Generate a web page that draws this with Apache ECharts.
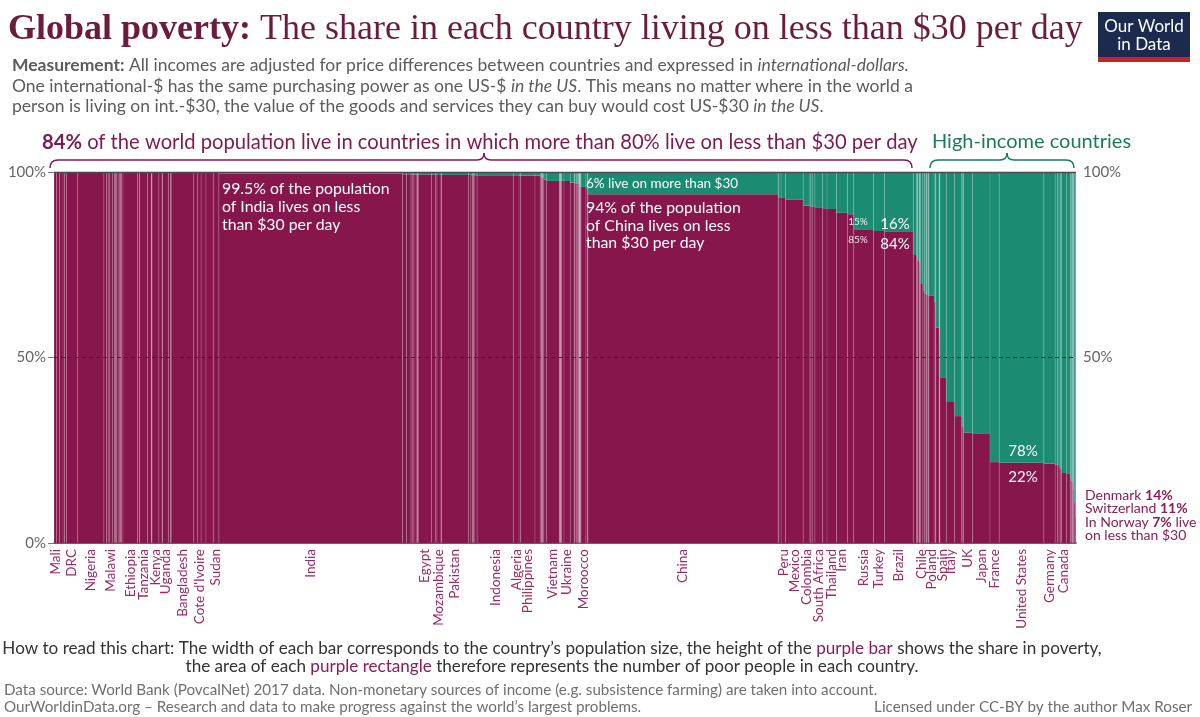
<!DOCTYPE html>
<html><head><meta charset="utf-8">
<script src="https://cdn.jsdelivr.net/npm/echarts@6/dist/echarts.min.js"></script>
<style>html,body{margin:0;padding:0;background:#fff}#c{width:1200px;height:717px}</style>
</head><body><div id="c"></div>
<script>
// Countries in chart order (sorted by share living on less than $30/day)
const countries = [
 'Mali','Niger','Madagascar','Burundi','Chad','DRC','Nigeria','Burkina Faso','Guinea','Benin',
 'Malawi','Zambia','Central African Republic','Sierra Leone','South Sudan','Rwanda','Liberia','Togo','Haiti','Ethiopia',
 'Zimbabwe','Guinea-Bissau','Tanzania','Yemen','Lesotho','Gambia','Comoros','Kenya','Cameroon','Eswatini',
 'Djibouti','Uganda','Senegal','Mauritania','Bangladesh','Nepal',"Cote d'Ivoire",'Afghanistan','Myanmar','Sudan',
 'India','Ghana','Uzbekistan','Tajikistan','Kyrgyzstan','Laos','Cambodia','Papua New Guinea','Congo','Timor-Leste',
 'Solomon Islands','Egypt','Angola','Honduras','Mozambique','Bhutan','Mongolia','Pakistan','Guatemala','Bolivia',
 'Nicaragua','El Salvador','Sri Lanka','Indonesia','Algeria','Tunisia','Philippines','Iraq','Jordan','Armenia',
 'Georgia','Moldova','Paraguay','Kazakhstan','Vietnam','Albania','Bosnia and Herzegovina','North Macedonia','Namibia','Botswana',
 'Gabon','Syria','Ukraine','Venezuela','Jamaica','Azerbaijan','Lebanon','Serbia','Turkmenistan','Libya',
 'Fiji','Belize','Guyana','Suriname','Montenegro','Kosovo','Palestine','Cabo Verde','Mauritius','Morocco',
 'Dominican Republic','Panama','China','Costa Rica','Ecuador','Peru','Mexico','Colombia','Bulgaria','Belarus',
 'Romania','South Africa','Malaysia','Thailand','Iran','Argentina','Russia','Turkey','Brazil','Saudi Arabia',
 'Oman','Uruguay','Hungary','Croatia','Latvia','Lithuania','Chile','Greece','Slovakia','Portugal',
 'Estonia','United Arab Emirates','Kuwait','Qatar','Poland','Czech Republic','Slovenia','Taiwan','Puerto Rico','Trinidad and Tobago',
 'Cyprus','Malta','Spain','Italy','South Korea','Israel','New Zealand','UK','Japan','France',
 'United States','Germany','Netherlands','Belgium','Austria','Sweden','Canada','Australia','Finland','Hong Kong',
 'Singapore','Ireland','Luxembourg','Iceland','Denmark','Switzerland','Norway'
];
// Population, millions (bar width)
const population = [
 18.5,21.5,25.6,10.8,15.0,81.3,190.9,19.2,12.7,11.2,
 18.6,17.1,4.7,7.6,12.6,12.2,4.7,7.8,11.0,105.0,
 14.2,1.9,57.3,28.3,2.2,2.1,0.8,49.7,24.1,1.4,
 1.0,42.9,15.9,4.4,164.7,29.3,24.3,35.5,53.4,40.5,
 1339.2,28.8,32.4,8.9,6.2,6.9,16.0,8.3,5.1,1.3,
 0.6,97.6,29.8,9.3,29.7,0.8,3.1,197.0,16.9,11.1,
 6.4,6.4,21.4,264.0,41.3,11.5,104.9,38.3,9.7,2.9,
 3.7,3.5,6.8,18.0,95.5,2.9,3.5,2.1,2.5,2.3,
 2.0,18.3,44.8,29.4,2.9,9.9,6.1,7.0,5.8,6.4,
 0.9,0.4,0.8,0.6,0.6,1.8,4.7,0.5,1.3,35.7,
 10.8,4.1,1386.4,4.9,16.6,32.2,129.2,49.1,7.1,9.5,
 19.6,56.7,31.6,69.0,81.2,44.3,144.5,80.7,209.3,25.0,
 4.6,3.5,9.8,4.1,1.9,2.8,18.1,10.8,5.4,10.3,
 1.3,9.4,4.1,2.6,38.0,10.6,2.1,23.6,3.4,1.4,
 1.2,0.5,46.6,60.5,51.5,8.7,4.8,66.0,126.8,67.1,
 325.1,82.7,17.1,11.4,8.8,10.1,36.5,24.6,5.5,7.4,
 5.6,4.8,0.6,0.3,5.8,8.5,5.3
];
// Share living on less than $30 per day, %
const share = [
 100,100,100,100,100,100,100,100,100,100,
 100,100,100,100,100,100,100,100,99.9,100,
 99.9,100,100,100,99.9,100,99.9,99.8,99.8,99.7,
 99.8,99.9,99.8,99.8,99.9,99.8,99.8,99.8,99.7,99.7,
 99.5,99.4,99.4,99.4,99.4,99.3,99.3,99.3,99.3,99.3,
 99.3,99.3,99.3,99.2,99.2,99.2,99.2,99.2,99.2,99.1,
 99.1,99.1,99.1,99.1,99.1,99.0,99.0,99.0,98.8,98.7,
 98.6,98.5,98.4,98.0,97.6,97.6,97.6,97.6,97.6,97.6,
 97.6,97.6,97.6,97.2,97.1,97.0,97.0,97.0,96.9,96.8,
 96.6,96.5,96.5,96.4,96.3,96.2,96.1,96.0,96.0,96.0,
 95.5,95.0,94.0,93.2,93.0,93.0,92.5,91.0,90.8,90.7,
 90.6,90.5,90.2,90.0,89.0,88.6,84.6,84.1,84.0,77.6,
 77.0,76.5,76.0,75.7,75.0,74.0,70.0,68.0,67.5,67.2,
 67.0,66.9,66.8,66.7,66.6,65.0,63.0,58.0,57.0,56.0,
 55.0,54.0,44.7,38.0,34.2,31.5,31.2,29.8,29.6,21.8,
 21.6,21.4,21.2,21.0,20.2,20.0,18.9,18.8,17.5,16.8,
 16.4,16.2,15.5,15.0,14.0,11.0,7.0
];
// Countries that get an axis label, and the label text as printed
const tickCountries = ['Mali','DRC','Nigeria','Malawi','Ethiopia','Tanzania','Kenya','Uganda','Bangladesh',"Cote d'Ivoire",'Sudan',
 'India','Egypt','Mozambique','Pakistan','Indonesia','Algeria','Philippines','Vietnam','Ukraine','Morocco','China',
 'Peru','Mexico','Colombia','South Africa','Thailand','Iran','Russia','Turkey','Brazil','Chile','Poland','Spain','Italy',
 'UK','Japan','France','United States','Germany','Canada'];
const tickLabels = ['Mali','DRC','Nigeria','Malawi','Ethiopia','Tanzania','Kenya','Uganda','Bangladesh',"Cote d'Ivoire",'Sudan',
 'India','Egypt','Mozambique','Pakistan','Indonesia','Algeria','Philippines','Vietnam','Ukraine','Moroocco','China',
 'Peru','Mexico','Colombia','South Africa','Thailand','Iran','Russia','Turkey','Brazil','Chile','Poland','Spain','Italy',
 'UK','Japan','France','United States','Germany','Canada'];
const yTicks = [0, 50, 100];

const PURPLE = '#86164c', GREEN = '#1b8b72', LABEL = '#9d2b63';
const starts = []; let acc = 0;
population.forEach(p => { starts.push(acc); acc += p; });
const total = acc;
const data = countries.map((c, i) => [starts[i], starts[i] + population[i], share[i], c]);
const tickCenters = tickCountries.map(n => { const i = countries.indexOf(n); return starts[i] + population[i] / 2; });
function tickName(v) {
  let best = 0, bd = Infinity;
  tickCenters.forEach((c, i) => { const d = Math.abs(c - v); if (d < bd) { bd = d; best = i; } });
  return tickLabels[best];
}

const chart = echarts.init(document.getElementById('c'), null, {renderer: 'canvas'});
const F = 'Lato, "Noto Sans", sans-serif';
const SERIF = '"Liberation Serif", "DejaVu Serif", serif';

function txt(x, y, text, fs, color, extra) {
  return {type: 'text', x: x, y: y, z: 100, silent: true,
    style: Object.assign({text: text, fontFamily: F, fontSize: fs, fill: color, textVerticalAlign: 'middle'}, extra || {})};
}
function bracket(xa, xn, xb, y, color) {
  const st = {stroke: color, fill: 'none', lineWidth: 1.5};
  const mk = (t, shape) => ({type: t, silent: true, z: 100, shape: shape, style: st});
  return [
    mk('bezierCurve', {x1: xa, y1: y + 8, x2: xa + 8, y2: y, cpx1: xa, cpy1: y}),
    mk('line', {x1: xa + 8, y1: y, x2: xn - 7, y2: y}),
    mk('bezierCurve', {x1: xn - 7, y1: y, x2: xn, y2: y - 7, cpx1: xn, cpy1: y}),
    mk('bezierCurve', {x1: xn, y1: y - 7, x2: xn + 7, y2: y, cpx1: xn, cpy1: y}),
    mk('line', {x1: xn + 7, y1: y, x2: xb - 8, y2: y}),
    mk('bezierCurve', {x1: xb - 8, y1: y, x2: xb, y2: y + 8, cpx1: xb, cpy1: y})
  ];
}
const boldRich = (fs, color) => ({b: {fontFamily: F, fontSize: fs, fontWeight: 'bold', fill: color}});
const SUB = 17.5, SUBC = '#5c5c5c', NOTE = 17.1, SRC = 15.2, IN = 15.8;

chart.setOption({
  animation: false,
  grid: {left: 54, right: 124, top: 172, bottom: 174},
  xAxis: {
    type: 'value', min: 0, max: total,
    axisLine: {show: true, onZero: false, lineStyle: {color: '#333', width: 1.5}},
    axisTick: {show: false}, splitLine: {show: false},
    axisLabel: {customValues: tickCenters, rotate: 90, formatter: v => tickName(v), hideOverlap: false,
      color: LABEL, fontFamily: F, fontSize: 13.5, margin: 6}
  },
  yAxis: [
    {type: 'value', min: 0, max: 100, interval: 50, position: 'left',
     axisLine: {show: false}, splitLine: {show: false},
     axisTick: {show: true, length: 6, lineStyle: {color: '#777'}},
     axisLabel: {customValues: yTicks, formatter: v => v + '%', color: '#666', fontFamily: F, fontSize: 15, margin: 8}},
    {type: 'value', min: 0, max: 100, interval: 50, position: 'right',
     axisLine: {show: false}, splitLine: {show: false}, axisTick: {show: false},
     axisLabel: {customValues: [50, 100], formatter: v => v + '%', color: '#666', fontFamily: F, fontSize: 15, margin: 7}}
  ],
  series: [{
    type: 'custom',
    data: data,
    encode: {x: [0, 1], y: 2},
    renderItem: function (params, api) {
      const x0 = api.value(0), x1 = api.value(1), s = api.value(2);
      const p0 = api.coord([x0, 0]), ps = api.coord([x1, s]), pt = api.coord([x1, 100]);
      const w = ps[0] - p0[0];
      return {type: 'group', children: [
        {type: 'rect', shape: {x: p0[0], y: ps[1], width: w, height: p0[1] - ps[1]}, style: {fill: PURPLE}},
        {type: 'rect', shape: {x: p0[0], y: pt[1], width: w, height: ps[1] - pt[1]}, style: {fill: GREEN}},
        {type: 'line', shape: {x1: p0[0], y1: pt[1], x2: p0[0], y2: p0[1]},
         style: {stroke: 'rgba(255,255,255,0.26)', lineWidth: 0.7}}
      ]};
    },
    markLine: {silent: true, symbol: 'none', label: {show: false},
      data: [
        {yAxis: 100, lineStyle: {color: '#4a4a4a', type: 'solid', width: 1.3}},
        {yAxis: 50, lineStyle: {color: '#2a2a2a', type: [4, 3], width: 1}}
      ]}
  }],
  graphic: [].concat([
    // title
    txt(8, 30, '{b|Global poverty:} The share in each country living on less than $30 per day', 36, '#6b1c3e',
      {fontFamily: SERIF, rich: {b: {fontFamily: SERIF, fontSize: 36, fontWeight: 'bold', fill: '#6b1c3e'}}}),
    // subtitle
    txt(12, 65, '{b|Measurement:} All incomes are adjusted for price differences between countries and expressed in {i|international-dollars.}', SUB, SUBC,
      {rich: {b: {fontFamily: F, fontSize: SUB, fontWeight: 'bold', fill: SUBC}, i: {fontFamily: F, fontSize: SUB, fontStyle: 'italic', fill: SUBC}}}),
    txt(12, 86, 'One international-$ has the same purchasing power as one US-$ {i|in the US}. This means no matter where in the world a', SUB, SUBC,
      {rich: {i: {fontFamily: F, fontSize: SUB, fontStyle: 'italic', fill: SUBC}}}),
    txt(12, 106, 'person is living on int.-$30, the value of the goods and services they can buy would cost US-$30 {i|in the US}.', SUB, SUBC,
      {rich: {i: {fontFamily: F, fontSize: SUB, fontStyle: 'italic', fill: SUBC}}}),
    // logo
    {type: 'rect', silent: true, z: 100, shape: {x: 1098, y: 12, width: 92, height: 50}, style: {fill: '#1b2a4d'}},
    {type: 'rect', silent: true, z: 100, shape: {x: 1098, y: 57, width: 92, height: 5}, style: {fill: '#c8232c'}},
    txt(1144, 27, 'Our World', 17, '#fff', {textAlign: 'center'}),
    txt(1144, 45, 'in Data', 17, '#fff', {textAlign: 'center'}),
    // bracket annotations
    txt(42, 142, '{b|84%} of the world population live in countries in which more than 80% live on less than $30 per day', 20.2, '#7e1a4f',
      {rich: boldRich(20.2, '#7e1a4f')}),
    txt(932, 142, 'High-income countries', 20, '#1a7a5e'),
    // in-plot annotations
    txt(222, 189, '99.5% of the population', IN, '#fff'),
    txt(222, 207, 'of India lives on less', IN, '#fff'),
    txt(222, 225, 'than $30 per day', IN, '#fff'),
    txt(586, 184, '6% live on more than $30', 13.5, '#fff'),
    txt(586, 208, '94% of the population', IN, '#fff'),
    txt(586, 226, 'of China lives on less', IN, '#fff'),
    txt(586, 243, 'than $30 per day', IN, '#fff'),
    txt(858, 222, '15%', 10, '#f0f0f0', {textAlign: 'center'}),
    txt(858, 240, '85%', 10, '#f0e6ec', {textAlign: 'center'}),
    txt(895, 224, '16%', 15, '#fff', {textAlign: 'center'}),
    txt(895, 244, '84%', 15, '#fff', {textAlign: 'center'}),
    txt(1023, 451, '78%', 15, '#fff', {textAlign: 'center'}),
    txt(1023, 477, '22%', 15, '#fff', {textAlign: 'center'}),
    // right-side annotations
    txt(1085, 495, 'Denmark {b|14%}', 14, '#8a1f55', {rich: boldRich(14, '#8a1f55')}),
    txt(1085, 508, 'Switzerland {b|11%}', 14, '#8a1f55', {rich: boldRich(14, '#8a1f55')}),
    txt(1085, 522, 'In Norway {b|7%} live', 14, '#8a1f55', {rich: boldRich(14, '#8a1f55')}),
    txt(1085, 535, 'on less than $30', 14, '#8a1f55'),
    // bottom notes
    txt(552, 648, 'How to read this chart: The width of each bar corresponds to the country\u2019s population size, the height of the {p|purple bar} shows the share in poverty,', NOTE, '#333',
      {textAlign: 'center', rich: {p: {fontFamily: F, fontSize: NOTE, fill: '#8c1d5a'}}}),
    txt(552, 666, 'the area of each {p|purple rectangle} therefore represents the number of poor people in each country.', NOTE, '#333',
      {textAlign: 'center', rich: {p: {fontFamily: F, fontSize: NOTE, fill: '#8c1d5a'}}}),
    txt(4, 690, 'Data source: World Bank (PovcalNet) 2017 data. Non-monetary sources of income (e.g. subsistence farming) are taken into account.', SRC, '#6f6f6f'),
    txt(4, 707, 'OurWorldinData.org \u2013 Research and data to make progress against the world\u2019s largest problems.', SRC, '#6f6f6f'),
    txt(1192, 707, 'Licensed under CC-BY by the author Max Roser', SRC, '#6f6f6f', {textAlign: 'right'})
  ], bracket(50, 484, 912, 160, '#7e1a4f'), bracket(930, 1007, 1074, 160, '#1a7a5e'))
});
</script></body></html>
